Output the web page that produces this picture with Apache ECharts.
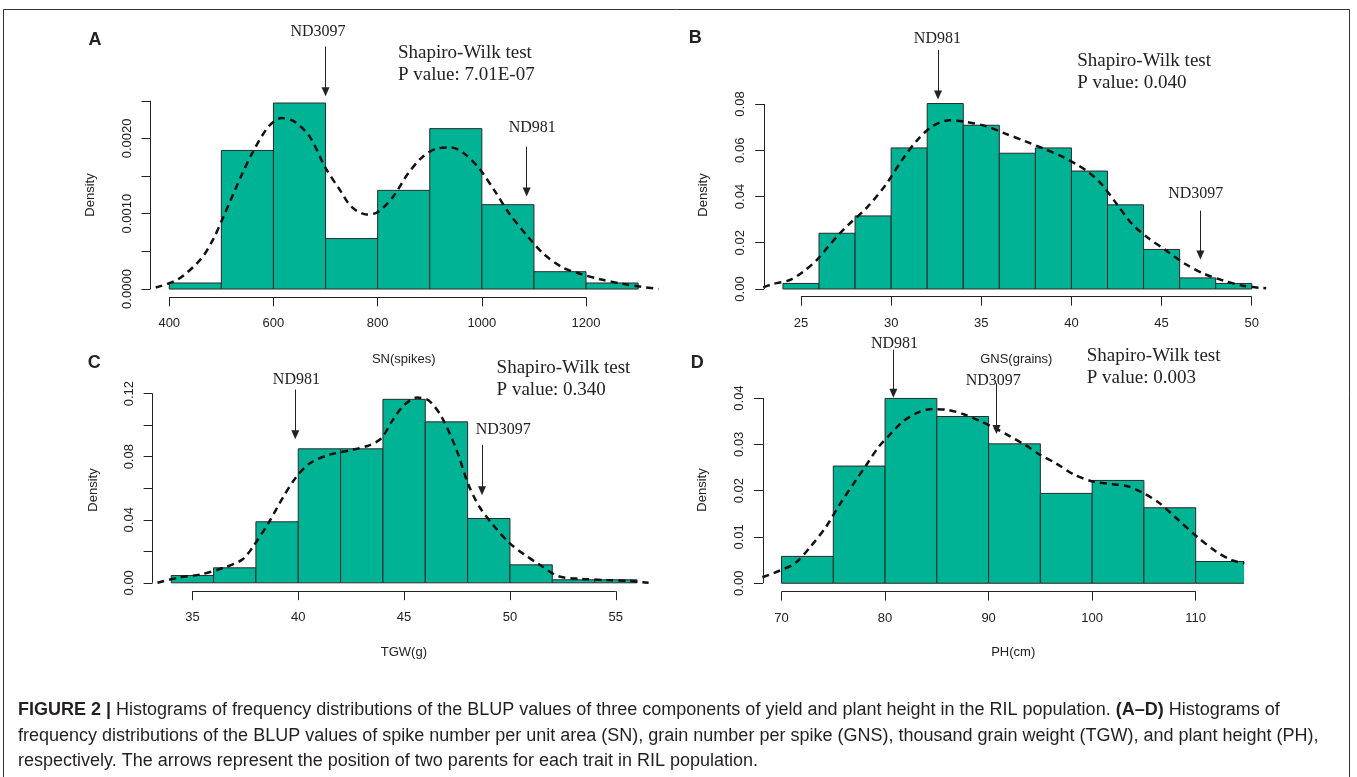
<!DOCTYPE html>
<html>
<head>
<meta charset="utf-8">
<script src="https://cdn.jsdelivr.net/npm/echarts@6/dist/echarts.min.js"></script>
<style>
html, body { margin: 0; padding: 0; background: #fff; }
#chart { width: 1357px; height: 777px; }
</style>
</head>
<body>
<div id="chart"></div>
<script>
// ---- data ----
// A: SN(spikes)
const binsA = [400, 500, 600, 700, 800, 900, 1000, 1100, 1200, 1300];
const densA = [0.00008, 0.00184, 0.00247, 0.00067, 0.00131, 0.00213, 0.00112, 0.00023, 0.00008];
const kdeXA = [374, 417, 461, 485, 504, 540, 562, 591, 616, 641, 670, 699, 728, 750, 779, 800, 829, 858, 887, 916, 941, 966, 995, 1024, 1053, 1089, 1118, 1154, 1190, 1227, 1270, 1306, 1339];
const kdeYA = [0.00002, 0.00013, 0.0004, 0.00067, 0.00096, 0.00153, 0.00184, 0.00216, 0.00227, 0.00222, 0.00202, 0.00162, 0.00131, 0.00109, 0.00099, 0.00102, 0.00122, 0.00153, 0.00176, 0.00187, 0.00188, 0.0018, 0.0016, 0.00131, 0.001, 0.00069, 0.00047, 0.00029, 0.0002, 0.00013, 0.00007, 0.00003, 0.0];
const parentXA = [700, 1086];
const arrowTopA = [0.00322, 0.00189];
const arrowTipA = [0.00262, 0.00129];
const xTicksA = [400, 600, 800, 1000, 1200];
const yTicksA = [0, 0.0005, 0.001, 0.0015, 0.002, 0.0025];
const yLabelsA = [0, 0.001, 0.002];

// B: GNS(grains)
const binsB = [24, 26, 28, 30, 32, 34, 36, 38, 40, 42, 44, 46, 48, 50];
const densB = [0.0024, 0.0241, 0.0316, 0.061, 0.0802, 0.0708, 0.0587, 0.061, 0.051, 0.0364, 0.0171, 0.0048, 0.0024];
const kdeXB = [22.9, 23.46, 24.39, 25.13, 25.87, 26.51, 27.16, 27.62, 28.68, 29.74, 30.6, 31.44, 32.3, 33.25, 34.1, 35.27, 36.33, 37.4, 38.46, 39.52, 40.37, 41.0, 41.65, 42.5, 43.35, 44.2, 45.26, 46.32, 47.38, 48.45, 49.5, 50.8];
const kdeYB = [0.0007, 0.0022, 0.0039, 0.0075, 0.0125, 0.0183, 0.0241, 0.0277, 0.0354, 0.0455, 0.0557, 0.0643, 0.0704, 0.073, 0.0723, 0.0704, 0.0672, 0.064, 0.0607, 0.0571, 0.0535, 0.0502, 0.0455, 0.0369, 0.0282, 0.0224, 0.0166, 0.0108, 0.0065, 0.0036, 0.0014, 0.0003];
const parentXB = [32.6, 47.15];
const arrowTopB = [0.1034, 0.0339];
const arrowTipB = [0.0839, 0.0147];
const xTicksB = [25, 30, 35, 40, 45, 50];
const yTicksB = [0, 0.02, 0.04, 0.06, 0.08];
const yLabelsB = [0, 0.02, 0.04, 0.06, 0.08];

// C: TGW(g)
const binsC = [34, 36, 38, 40, 42, 44, 46, 48, 50, 52, 54, 56];
const densC = [0.0046, 0.0095, 0.0387, 0.085, 0.085, 0.1164, 0.1021, 0.0408, 0.0114, 0.0019, 0.0019];
const kdeXC = [33.35, 34.32, 35.39, 36.46, 37.35, 37.88, 38.59, 39.3, 39.92, 40.55, 41.44, 42.5, 43.39, 43.92, 44.46, 44.99, 45.61, 46.15, 46.77, 47.48, 48.01, 48.55, 49.26, 49.97, 50.68, 51.39, 52.28, 53.35, 54.59, 55.66, 56.55];
const kdeYC = [0, 0.0032, 0.0053, 0.0095, 0.0147, 0.0232, 0.0379, 0.0547, 0.0674, 0.0758, 0.0811, 0.0842, 0.0874, 0.0916, 0.1032, 0.1126, 0.1175, 0.1158, 0.1053, 0.0842, 0.0632, 0.0484, 0.0358, 0.0253, 0.0179, 0.0116, 0.0042, 0.0025, 0.0017, 0.0011, 0.0];
const parentXC = [39.86, 48.68];
const arrowTopC = [0.1226, 0.0875];
const arrowTipC = [0.0939, 0.0584];
const xTicksC = [35, 40, 45, 50, 55];
const yTicksC = [0, 0.02, 0.04, 0.06, 0.08, 0.1, 0.12];
const yLabelsC = [0, 0.04, 0.08, 0.12];

// D: PH(cm)
const binsD = [70, 75, 80, 85, 90, 95, 100, 105, 110, 115];
const densD = [0.0058, 0.0253, 0.0399, 0.036, 0.0301, 0.0194, 0.0222, 0.0163, 0.0047];
const kdeXD = [68.15, 69.8, 71.3, 72.8, 74.3, 75.7, 77.2, 78.3, 79.4, 80.6, 81.7, 83.1, 84.6, 86.1, 87.6, 89.1, 90.6, 92.0, 93.5, 95.0, 96.5, 98.3, 100.2, 102.0, 103.5, 105.0, 106.5, 108.3, 110.1, 112.0, 113.5, 114.7];
const kdeYD = [0.0013, 0.0027, 0.0043, 0.0079, 0.0122, 0.0173, 0.0223, 0.0259, 0.0295, 0.0324, 0.0349, 0.0368, 0.0376, 0.0374, 0.0365, 0.0351, 0.0335, 0.0318, 0.0299, 0.0277, 0.0259, 0.0234, 0.0219, 0.0214, 0.0209, 0.0194, 0.0173, 0.0137, 0.0101, 0.0068, 0.005, 0.0043];
const parentXD = [80.8, 90.76];
const arrowTopD = [0.0504, 0.0432];
const arrowTipD = [0.041, 0.0332];
const xTicksD = [70, 80, 90, 100, 110];
const yTicksD = [0, 0.01, 0.02, 0.03, 0.04];
const yLabelsD = [0, 0.01, 0.02, 0.03, 0.04];

// ---- layout ----
const frames = [
    {left: 150.5, top: 33.0, width: 506.4, height: 264.3, xMin: 364, xMax: 1336, yMin: -0.00011, yMax: 0.0034, digits: 4},
    {left: 764.2, top: 34.6, width: 506.3, height: 262.1, xMin: 22.96, xMax: 51.04, yMin: -0.00333, yMax: 0.11, digits: 2},
    {left: 152.6, top: 377.9, width: 503.0, height: 213.3, xMin: 33.12, xMax: 56.88, yMin: -0.00533, yMax: 0.13, digits: 2},
    {left: 762.9, top: 342.4, width: 480.4, height: 249.2, xMin: 68.2, xMax: 114.6, yMin: -0.0018, yMax: 0.052, digits: 2}
];

const panels = [
    {bins: binsA, dens: densA, kx: kdeXA, ky: kdeYA, px: parentXA, top: arrowTopA, tip: arrowTipA, xt: xTicksA, yt: yTicksA, yl: yLabelsA},
    {bins: binsB, dens: densB, kx: kdeXB, ky: kdeYB, px: parentXB, top: arrowTopB, tip: arrowTipB, xt: xTicksB, yt: yTicksB, yl: yLabelsB},
    {bins: binsC, dens: densC, kx: kdeXC, ky: kdeYC, px: parentXC, top: arrowTopC, tip: arrowTipC, xt: xTicksC, yt: yTicksC, yl: yLabelsC},
    {bins: binsD, dens: densD, kx: kdeXD, ky: kdeYD, px: parentXD, top: arrowTopD, tip: arrowTipD, xt: xTicksD, yt: yTicksD, yl: yLabelsD}
];

const SANS = '"Liberation Sans", Arial, sans-serif';
const SERIF = '"Liberation Serif", "Times New Roman", serif';
const INK = '#222';

let grids = [], xAxes = [], yAxes = [], series = [];

panels.forEach(function (p, i) {
    let f = frames[i];
    grids.push({left: f.left, top: f.top, width: f.width, height: f.height, containLabel: false, outerBoundsMode: 'none'});

    xAxes.push({
        gridIndex: i, type: 'value', min: f.xMin, max: f.xMax,
        axisLine: {show: false, onZero: false},
        splitLine: {show: false},
        axisTick: {show: true, length: 9, customValues: p.xt, lineStyle: {color: INK, width: 1}},
        axisLabel: {
            customValues: p.xt, margin: 20, fontSize: 13, fontFamily: SANS, color: INK,
            formatter: function (v) { return String(v); }
        }
    });
    yAxes.push({
        gridIndex: i, type: 'value', min: f.yMin, max: f.yMax,
        axisLine: {show: false, onZero: false},
        splitLine: {show: false},
        axisTick: {show: true, length: 9, customValues: p.yt, lineStyle: {color: INK, width: 1}},
        axisLabel: {
            customValues: p.yl, rotate: 90, margin: 17, fontSize: 13, fontFamily: SANS, color: INK,
            formatter: function (v) { return Number(v).toFixed(f.digits); }
        }
    });

    // histogram bars
    let barData = p.dens.map(function (d, k) { return [p.bins[k], p.bins[k + 1], d]; });
    series.push({
        type: 'custom', xAxisIndex: i, yAxisIndex: i, clip: true, silent: true,
        data: barData,
        encode: {x: [0, 1], y: 2},
        renderItem: function (params, api) {
            let a = api.coord([api.value(0), 0]);
            let b = api.coord([api.value(1), api.value(2)]);
            return {
                type: 'rect',
                shape: {x: a[0], y: b[1], width: b[0] - a[0], height: a[1] - b[1]},
                style: {fill: '#00b394', stroke: '#2a2a2a', lineWidth: 1}
            };
        }
    });

    // density curve
    series.push({
        type: 'line', xAxisIndex: i, yAxisIndex: i, clip: true, silent: true,
        data: p.kx.map(function (x, k) { return [x, p.ky[k]]; }),
        showSymbol: false, smooth: 0.3,
        lineStyle: {color: '#111', width: 2.5, type: [7, 5]},
        z: 3
    });

    // axis lines (tick span only, like R) and parent arrows
    let lines = [
        [{coord: [p.xt[0], f.yMin]}, {coord: [p.xt[p.xt.length - 1], f.yMin]}],
        [{coord: [f.xMin, p.yt[0]]}, {coord: [f.xMin, p.yt[p.yt.length - 1]]}]
    ];
    p.px.forEach(function (x, k) {
        lines.push([{coord: [x, p.top[k]]}, {coord: [x, p.tip[k]], symbol: 'triangle', symbolSize: [8, 9]}]);
    });
    series.push({
        type: 'line', xAxisIndex: i, yAxisIndex: i, data: [], silent: true,
        markLine: {
            silent: true, symbol: ['none', 'none'], precision: 6,
            label: {show: false},
            emphasis: {disabled: true},
            lineStyle: {color: INK, width: 1, type: 'solid'},
            data: lines
        },
        z: 4
    });
});

function txt(s, x, y, font, align, extra) {
    let el = {type: 'text', x: x, y: y, silent: true,
        style: {text: s, font: font, fill: INK, align: align || 'center', verticalAlign: 'middle'}};
    return Object.assign(el, extra || {});
}

const ND = '16px ' + SERIF;
const SW = '19px ' + SERIF;
const LAB = 'bold 18px ' + SANS;
const AX = '13px ' + SANS;
const CAP = '18px ' + SANS;
const rot = {rotation: Math.PI / 2};
const boldRich = {b: {fontWeight: 'bold', fontSize: 18, fontFamily: SANS, fill: '#231f20'}};

let graphics = [
    // frame
    {type: 'rect', silent: true, shape: {x: 3.5, y: 9.5, width: 1346, height: 800},
        style: {fill: 'none', stroke: '#333', lineWidth: 1}},

    // A
    txt('A', 95, 40, LAB),
    txt('ND3097', 318, 31.7, ND),
    txt('Shapiro-Wilk test', 398, 53.3, SW, 'left'),
    txt('P value: 7.01E-07', 398, 75, SW, 'left'),
    txt('ND981', 532.3, 127.7, ND),
    txt('Density', 90.5, 195, AX, 'center', rot),
    txt('SN(spikes)', 403.7, 359, AX),

    // B
    txt('B', 695.3, 38, LAB),
    txt('ND981', 937.4, 39, ND),
    txt('Shapiro-Wilk test', 1077.2, 61, SW, 'left'),
    txt('P value: 0.040', 1077.2, 82.7, SW, 'left'),
    txt('ND3097', 1195.7, 193.3, ND),
    txt('Density', 703, 195, AX, 'center', rot),
    txt('GNS(grains)', 1016.3, 359, AX),

    // C
    txt('C', 94.3, 363.3, LAB),
    txt('ND981', 296.4, 380, ND),
    txt('Shapiro-Wilk test', 496.6, 368.3, SW, 'left'),
    txt('P value: 0.340', 496.6, 390, SW, 'left'),
    txt('ND3097', 503.3, 429.3, ND),
    txt('Density', 93.2, 490, AX, 'center', rot),
    txt('TGW(g)', 403.9, 652.7, AX),

    // D
    txt('D', 697.2, 363.3, LAB),
    txt('ND981', 894.5, 343.3, ND),
    txt('ND3097', 993.3, 380.7, ND),
    txt('Shapiro-Wilk test', 1086.7, 356, SW, 'left'),
    txt('P value: 0.003', 1086.7, 377.7, SW, 'left'),
    txt('Density', 702.2, 490, AX, 'center', rot),
    txt('PH(cm)', 1013.2, 652.7, AX),

    // caption
    {type: 'text', x: 18, y: 710, silent: true, style: {
        text: '{b|FIGURE 2 |} Histograms of frequency distributions of the BLUP values of three components of yield and plant height in the RIL population. {b|(A\u2013D)} Histograms of',
        font: CAP, fill: '#231f20', verticalAlign: 'middle', rich: boldRich}},
    {type: 'text', x: 18, y: 736, silent: true, style: {
        text: 'frequency distributions of the BLUP values of spike number per unit area (SN), grain number per spike (GNS), thousand grain weight (TGW), and plant height (PH),',
        font: CAP, fill: '#231f20', verticalAlign: 'middle'}},
    {type: 'text', x: 18, y: 761, silent: true, style: {
        text: 'respectively. The arrows represent the position of two parents for each trait in RIL population.',
        font: CAP, fill: '#231f20', verticalAlign: 'middle'}}
];

let chart = echarts.init(document.getElementById('chart'));
chart.setOption({
    backgroundColor: '#fff',
    animation: false,
    grid: grids,
    xAxis: xAxes,
    yAxis: yAxes,
    series: series,
    graphic: graphics
});
</script>
</body>
</html>
